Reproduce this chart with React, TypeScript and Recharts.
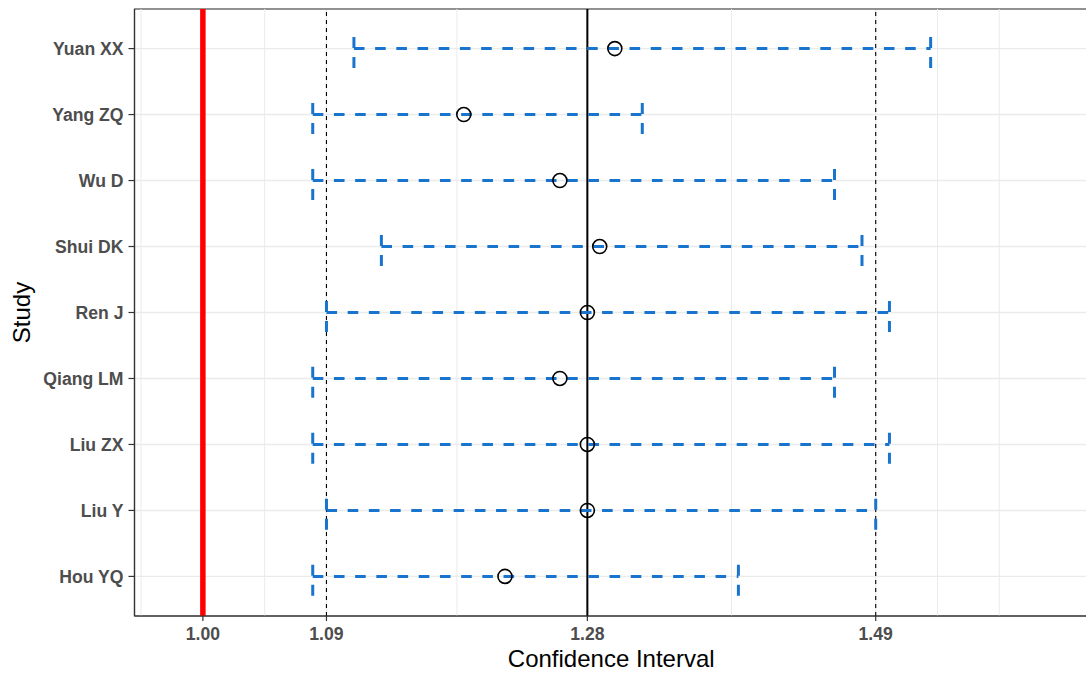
import {
  ComposedChart,
  Scatter,
  XAxis,
  YAxis,
  CartesianGrid,
  ReferenceLine,
  ReferenceArea,
} from "recharts"

// studies listed bottom -> top (ggplot factor order)
const studies = ["Hou YQ", "Liu Y", "Liu ZX", "Qiang LM", "Ren J", "Shui DK", "Wu D", "Yang ZQ", "Yuan XX"]
const estimates = [1.22, 1.28, 1.28, 1.26, 1.28, 1.289, 1.26, 1.19, 1.3]
const lower = [1.08, 1.09, 1.08, 1.08, 1.09, 1.13, 1.08, 1.08, 1.11]
const upper = [1.39, 1.49, 1.5, 1.46, 1.5, 1.48, 1.46, 1.32, 1.53]

const xTicks = [1.0, 1.09, 1.28, 1.49]
const minorGrid = [0.955, 1.045, 1.185, 1.385, 1.535, 1.58]
const refNull = 1.0
const refPooled = 1.28
const refBounds = [1.09, 1.49]

const X_DOMAIN: [number, number] = [0.9502, 1.6446]
const Y_DOMAIN: [number, number] = [0.4, 9.6]
const CAP_UP = 0.176
const CAP_DOWN = 0.3
const BLUE = "#1874CD"

const rows = studies.map((study, i) => ({
  study,
  idx: i + 1,
  est: estimates[i],
  lo: lower[i],
  hi: upper[i],
}))

const tickStyle = {
  fill: "#4d4d4d",
  fontSize: 17.6,
  fontWeight: "bold" as const,
}

function OpenCircle(props: any) {
  const { cx, cy } = props
  if (cx == null || cy == null) return null
  return <circle cx={cx} cy={cy} r={7} fill="none" stroke="#000" strokeWidth={1.6} />
}

function StudyLabel(props: any) {
  const vb = props.viewBox || {}
  const cx = (vb.x ?? 0) + 11
  const cy = (vb.y ?? 0) + (vb.height ?? 0) / 2
  return (
    <text
      x={cx}
      y={cy}
      transform={`rotate(-90 ${cx} ${cy})`}
      textAnchor="middle"
      dominantBaseline="central"
      fontSize={24}
      fill="#000"
    >
      Study
    </text>
  )
}

export default function App() {
  return (
    <div
      style={{
        position: "absolute",
        top: 0,
        left: 0,
        width: 1086,
        height: 675,
        overflow: "hidden",
        background: "#fff",
        fontFamily: "'Liberation Sans', Arial, sans-serif",
      }}
    >
      <ComposedChart
        width={1088}
        height={675}
        data={rows}
        margin={{ top: 9, right: 0, bottom: 0, left: 10 }}
      >
        <CartesianGrid stroke="#ebebeb" strokeWidth={1.4} />
        {minorGrid.map((v) => (
          <ReferenceLine key={`mg-${v}`} x={v} stroke="#ebebeb" strokeWidth={1} />
        ))}

        <XAxis
          type="number"
          dataKey="est"
          domain={X_DOMAIN}
          allowDataOverflow
          ticks={xTicks}
          tickFormatter={(v: number) => v.toFixed(2)}
          tick={tickStyle}
          tickSize={5}
          tickMargin={7}
          height={59}
          stroke="#333"
          axisLine={{ stroke: "#333", strokeWidth: 1.2 }}
          tickLine={{ stroke: "#333", strokeWidth: 1.2 }}
          label={{
            value: "Confidence Interval",
            position: "insideBottom",
            offset: 8,
            fill: "#000",
            fontSize: 24,
          }}
        />
        <YAxis
          type="number"
          dataKey="idx"
          domain={Y_DOMAIN}
          allowDataOverflow
          ticks={studies.map((_, i) => i + 1)}
          tickFormatter={(v: number) => studies[v - 1] ?? ""}
          tick={tickStyle}
          tickSize={6}
          tickMargin={5}
          width={124.5}
          axisLine={{ stroke: "#333", strokeWidth: 1.2 }}
          tickLine={{ stroke: "#333", strokeWidth: 1.2 }}
          label={<StudyLabel />}
        />

        <ReferenceLine x={refNull} stroke="#ff0000" strokeWidth={5.5} />
        <ReferenceLine x={refPooled} stroke="#000" strokeWidth={2} />
        {refBounds.map((v) => (
          <ReferenceLine
            key={`rb-${v}`}
            x={v}
            stroke="#000"
            strokeWidth={1.1}
            strokeDasharray="4 4"
          />
        ))}

        {rows.map((r) => (
          <ReferenceLine
            key={`h-${r.study}`}
            segment={[
              { x: r.lo, y: r.idx },
              { x: r.hi, y: r.idx },
            ]}
            stroke={BLUE}
            strokeWidth={3}
            strokeDasharray="10.6 10.6"
          />
        ))}
        {rows.flatMap((r) =>
          [r.lo, r.hi].map((v, k) => (
            <ReferenceLine
              key={`c-${r.study}-${k}`}
              segment={[
                { x: v, y: r.idx + CAP_UP },
                { x: v, y: r.idx - CAP_DOWN },
              ]}
              stroke={BLUE}
              strokeWidth={3}
              strokeDasharray="11 9"
            />
          ))
        )}

        <Scatter
          data={rows}
          dataKey="est"
          shape={<OpenCircle />}
          isAnimationActive={false}
        />

        <ReferenceArea
          x1={X_DOMAIN[0]}
          x2={X_DOMAIN[1]}
          y1={Y_DOMAIN[0]}
          y2={Y_DOMAIN[1]}
          fill="none"
          fillOpacity={0}
          stroke="#333"
          strokeWidth={1.2}
        />
      </ComposedChart>
    </div>
  )
}
